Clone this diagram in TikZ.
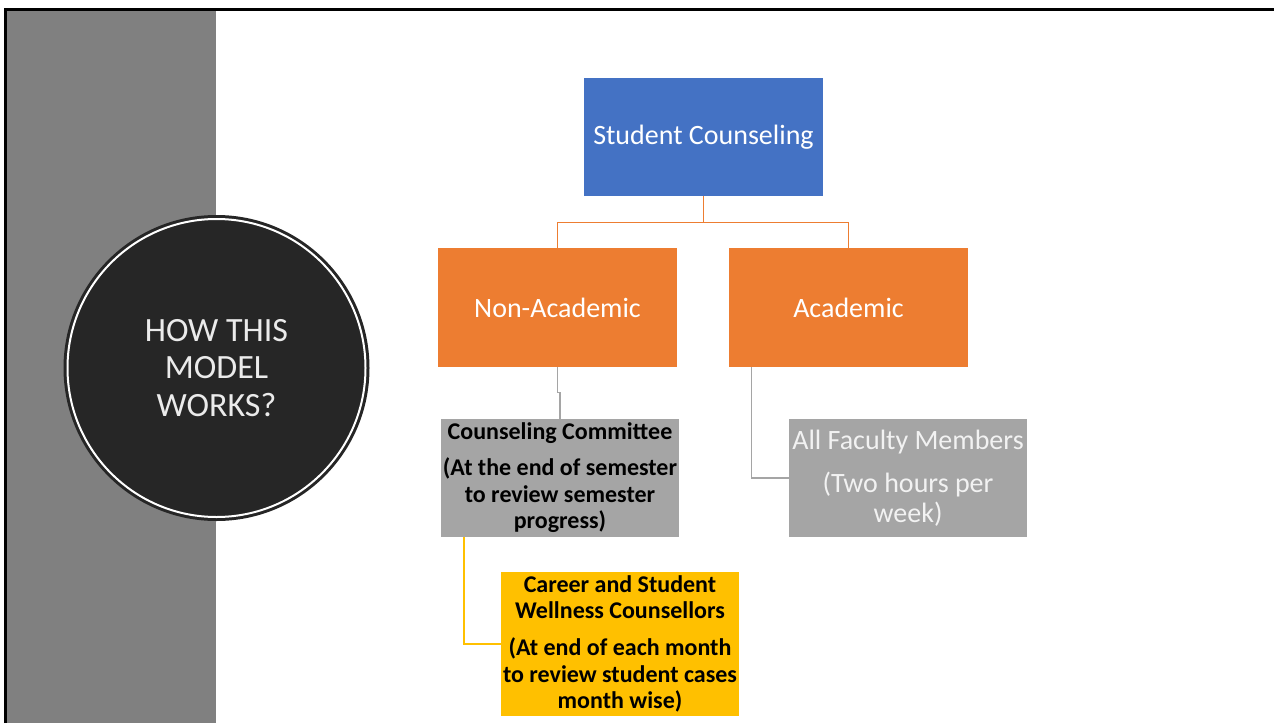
\documentclass[tikz,border=0pt]{standalone}
\usepackage{fontspec}
\setmainfont{Carlito}
\usepackage{tikz}
\usetikzlibrary{positioning,shapes}
\usepackage{xcolor}
\definecolor{panelgray}{HTML}{808080}
\definecolor{circdark}{HTML}{262626}
\definecolor{topblue}{HTML}{4472C4}
\definecolor{midorange}{HTML}{ED7D31}
\definecolor{boxgray}{HTML}{A5A5A5}
\definecolor{boxgold}{HTML}{FFC000}
\tikzstyle{topbox}=[rectangle, fill=topblue, text=white, inner sep=0pt,
minimum width=239, minimum height=118, align=center, font=\fontsize{28}{32}\selectfont]
\tikzstyle{midbox}=[rectangle, fill=midorange, text=white, inner sep=0pt,
minimum width=239, minimum height=119, align=center, font=\fontsize{28}{32}\selectfont]
\tikzstyle{lowbox}=[rectangle, fill=boxgray, inner sep=0pt,
minimum width=238, minimum height=118, align=center]
\tikzstyle{goldbox}=[rectangle, fill=boxgold, inner sep=0pt,
minimum width=238, minimum height=144, align=center, font=\bfseries\fontsize{24}{26.5}\selectfont]

\begin{document}
\begin{tikzpicture}[x=1pt, y=-1pt]
            \useasboundingbox (0,0) rectangle (1274,723);
            % slide frame and side panel
            \fill[panelgray] (7,10) rectangle (216,723);
            \draw[black, line width=3] (5.5,723) -- (5.5,9) -- (1274,9);
            % title circle
            \node (ring)[circle, fill=circdark, inner sep=0pt, minimum size=306] at (216.5,368) {};
            \node (circ)[circle, fill=circdark, draw=white, line width=2, inner sep=0pt,
                minimum size=298, text=white!92!black, align=center,
                font=\fontsize{34}{37.5}\selectfont] at (216.5,368)
                {HOW THIS\\MODEL\\WORKS?};
            % boxes
            \node (sc)[topbox] at (703.5,137) {Student Counseling};
            \node (na)[midbox] at (557.5,307.5) {Non-Academic};
            \node (ac)[midbox] at (848.5,307.5) {Academic};
            \node (cc)[lowbox, font=\bfseries\fontsize{24}{26.5}\selectfont] at (560,478)
                {Counseling Committee\\[9.5pt]
                 (At the end of semester\\to review semester\\progress)};
            \node (fm)[lowbox, text=white!95!black, font=\fontsize{28}{30}\selectfont] at (908,478)
                {All Faculty Members\\[13pt]
                 (Two hours per\\week)};
            \node (cw)[goldbox] at (620,644)
                {Career and Student\\Wellness Counsellors\\[10.5pt]
                 (At end of each month\\to review student cases\\month wise)};
            % connectors
            \draw[midorange, line width=1.2] (sc.south) -- ++(0,26) -| (na.north);
            \draw[midorange, line width=1.2] (sc.south) -- ++(0,26) -| (ac.north);
            \draw[boxgray, line width=1.2] (na.south) -- ++(0,25) -| (cc.north);
            \draw[boxgray, line width=1.2] ([xshift=23]ac.south west) |- (fm.west);
            \draw[boxgold, line width=1.5] ([xshift=23]cc.south west) |- (cw.west);
        \end{tikzpicture}
\end{document}
